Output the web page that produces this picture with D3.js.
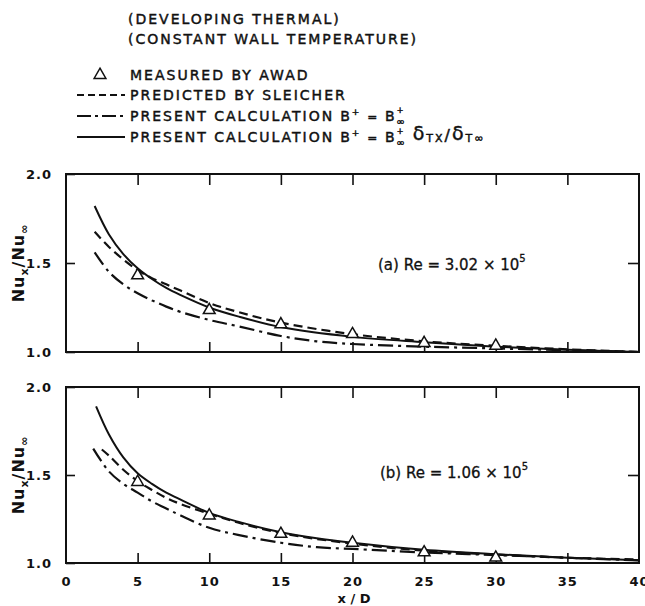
<!DOCTYPE html>
<html><head><meta charset="utf-8">
<script src="https://cdn.jsdelivr.net/npm/d3@7"></script>
<style>body{margin:0;background:#fff} svg{display:block}</style>
</head><body>
<script>
// ---------- data ----------
const xTicks = [0, 5, 10, 15, 20, 25, 30, 35, 40];
const yTicks = [1.0, 1.5, 2.0];
const titleLines = ["(DEVELOPING THERMAL)", "(CONSTANT WALL TEMPERATURE)"];
const legendLabels = ["MEASURED BY AWAD", "PREDICTED BY SLEICHER", "PRESENT CALCULATION"];
const panelLabels = ["(a) Re = 3.02 × 10", "(b) Re = 1.06 × 10"];

// panel (a)  Re = 3.02e5
const aSolidX   = [2, 3, 4, 5, 6, 7, 8, 10, 12, 15, 20, 25, 30, 35, 40];
const aSolidY   = [1.82, 1.66, 1.55, 1.47, 1.41, 1.36, 1.32, 1.25, 1.20, 1.14, 1.085, 1.055, 1.03, 1.012, 1.0];
const aDashX    = [2, 3, 4, 5, 6, 7, 8, 10, 12, 15, 20, 25, 30, 35, 40];
const aDashY    = [1.675, 1.59, 1.52, 1.46, 1.415, 1.38, 1.345, 1.275, 1.225, 1.165, 1.10, 1.06, 1.035, 1.015, 1.0];
const aDashDotX = [2, 3, 4, 5, 6, 7, 8, 10, 12, 15, 17.5, 20, 25, 30, 35, 40];
const aDashDotY = [1.56, 1.45, 1.38, 1.33, 1.29, 1.255, 1.225, 1.18, 1.145, 1.09, 1.06, 1.045, 1.03, 1.02, 1.01, 1.0];
const aMeasX    = [5, 10, 15, 20, 25, 30];
const aMeasY    = [1.43, 1.235, 1.155, 1.10, 1.05, 1.035];

// panel (b)  Re = 1.06e5
const bSolidX   = [2.1, 3, 4, 5, 6, 7, 8, 10, 12, 15, 17.5, 20, 25, 30, 35, 40];
const bSolidY   = [1.89, 1.73, 1.60, 1.51, 1.45, 1.40, 1.36, 1.285, 1.235, 1.175, 1.14, 1.115, 1.075, 1.05, 1.03, 1.015];
const bDashX    = [2.5, 3, 4, 5, 6, 7, 8, 10, 12, 15, 20, 25, 30, 35, 40];
const bDashY    = [1.645, 1.61, 1.53, 1.465, 1.415, 1.37, 1.335, 1.28, 1.23, 1.17, 1.11, 1.07, 1.048, 1.03, 1.02];
const bDashDotX = [1.9, 3, 4, 5, 6, 7, 8, 10, 12, 15, 17.5, 20, 25, 30, 35, 40];
const bDashDotY = [1.65, 1.52, 1.45, 1.40, 1.35, 1.31, 1.27, 1.20, 1.16, 1.115, 1.09, 1.08, 1.06, 1.045, 1.03, 1.015];
const bMeasX    = [5, 10, 15, 20, 25, 30];
const bMeasY    = [1.46, 1.27, 1.165, 1.115, 1.06, 1.03];

// ---------- layout ----------
const W = 645, H = 606;
const svg = d3.select("body").append("svg").attr("width", W).attr("height", H);
const FONT = "DejaVu Sans, sans-serif";
const INK = "#111";

const x = d3.scaleLinear().domain([0, 40]).range([66, 639]);
const panels = [
  {top: 174, bottom: 352, solid: [aSolidX, aSolidY], dash: [aDashX, aDashY], dd: [aDashDotX, aDashDotY], meas: [aMeasX, aMeasY], label: panelLabels[0], lx: 378, ly: 270, showX: false},
  {top: 387, bottom: 563, solid: [bSolidX, bSolidY], dash: [bDashX, bDashY], dd: [bDashDotX, bDashDotY], meas: [bMeasX, bMeasY], label: panelLabels[1], lx: 380, ly: 478, showX: true}
];

const zip = (xs, ys) => xs.map((v, i) => [v, ys[i]]);
const dashStyle = "9,5";
const dashDotStyle = "15,5,3,5";

// ---------- header / legend ----------
const head = svg.append("g").attr("font-family", FONT).attr("font-size", 14)
  .attr("letter-spacing", "2px").attr("fill", INK).attr("stroke", INK).attr("stroke-width", 0.45);
titleLines.forEach((t, i) => head.append("text").attr("x", 128).attr("y", 24 + i * 19.5).text(t));

const legendRows = [
  {y: 80, kind: "tri"},
  {y: 100, kind: "dash"},
  {y: 121, kind: "dd"},
  {y: 142, kind: "solid"}
];
const tri = d3.symbol().type(d3.symbolTriangle).size(60);
legendRows.forEach(r => {
  if (r.kind === "tri") {
    svg.append("path").attr("d", tri()).attr("transform", `translate(100,${r.y - 5})`)
      .attr("fill", "#fff").attr("stroke", INK).attr("stroke-width", 1.5);
  } else {
    svg.append("line").attr("x1", 77).attr("x2", 125).attr("y1", r.y - 5).attr("y2", r.y - 5)
      .attr("stroke", INK).attr("stroke-width", 2)
      .attr("stroke-dasharray", r.kind === "dash" ? "7,4" : r.kind === "dd" ? "14,4,3,4" : null);
  }
});
head.append("text").attr("x", 130).attr("y", 80).text(legendLabels[0]);
head.append("text").attr("x", 130).attr("y", 100).text(legendLabels[1]);

function bInf(t) {
  t.append("tspan").attr("dx", 6).text("B");
  t.append("tspan").attr("font-size", 9).attr("dy", -6).text("+");
  t.append("tspan").attr("font-size", 12).attr("dy", 6).text(" = ");
  t.append("tspan").attr("font-size", 14).text("B");
  t.append("tspan").attr("font-size", 8).attr("dy", -8).text("+");
  t.append("tspan").attr("font-size", 10).attr("letter-spacing", "0px").attr("dx", -9).attr("dy", 12).text("∞");
}
const r3 = head.append("text").attr("x", 130).attr("y", 121);
r3.append("tspan").text(legendLabels[2]);
bInf(r3);
const r4 = head.append("text").attr("x", 130).attr("y", 142);
r4.append("tspan").text(legendLabels[2]);
bInf(r4);
r4.append("tspan").attr("font-size", 19).attr("dx", 8).attr("dy", -6).text("δ");
r4.append("tspan").attr("font-size", 11).attr("dy", 2).text("TX");
r4.append("tspan").attr("font-size", 16).attr("dy", -1).text("/");
r4.append("tspan").attr("font-size", 19).attr("dy", -1).text("δ");
r4.append("tspan").attr("font-size", 11).attr("dy", 2).text("T∞");

// ---------- panels ----------
panels.forEach(p => {
  const y = d3.scaleLinear().domain([1, 2]).range([p.bottom, p.top]);
  const g = svg.append("g");

  // frame
  g.append("rect").attr("x", x(0)).attr("y", y(2)).attr("width", x(40) - x(0)).attr("height", y(1) - y(2))
    .attr("fill", "none").attr("stroke", INK).attr("stroke-width", 2);

  // axes (inward ticks)
  const inner = xTicks.slice(1, -1);
  const ax = g.append("g").attr("transform", `translate(0,${y(1)})`)
    .call(d3.axisBottom(x).tickValues(p.showX ? xTicks : inner).tickSize(-10).tickPadding(14)
      .tickFormat(p.showX ? d3.format("d") : ""));
  ax.selectAll(".tick line").filter(d => d === 0 || d === 40).remove();
  g.append("g").attr("transform", `translate(0,${y(2)})`)
    .call(d3.axisTop(x).tickValues(inner).tickSize(-11).tickFormat(""));
  g.append("g").attr("transform", `translate(${x(0)},0)`)
    .call(d3.axisLeft(y).tickValues(yTicks).tickSize(-9).tickPadding(14).tickFormat(d3.format(".1f")));
  g.append("g").attr("transform", `translate(${x(40)},0)`)
    .call(d3.axisRight(y).tickValues([1.5]).tickSize(-11).tickFormat(""));
  g.selectAll(".domain").remove();
  g.selectAll(".tick line").attr("stroke", INK).attr("stroke-width", 1.6);
  g.selectAll(".tick text").attr("font-family", FONT).attr("font-size", 13).attr("font-weight", "bold")
    .attr("fill", INK).attr("letter-spacing", "1px");

  // y label
  const yl = g.append("text").attr("transform", `translate(24,${(p.top + p.bottom) / 2}) rotate(-90)`)
    .attr("text-anchor", "middle").attr("font-family", FONT).attr("font-size", 16).attr("font-weight", "bold")
    .attr("letter-spacing", "1px").attr("fill", INK);
  yl.append("tspan").text("Nu");
  yl.append("tspan").attr("font-size", 11).attr("dy", 4).text("x");
  yl.append("tspan").attr("dy", -4).text("/Nu");
  yl.append("tspan").attr("font-size", 11).attr("dy", 4).text("∞");

  // curves
  const line = d3.line().x(d => x(d[0])).y(d => y(d[1])).curve(d3.curveCatmullRom.alpha(0.5));
  g.append("path").attr("d", line(zip(...p.dd))).attr("fill", "none").attr("stroke", INK)
    .attr("stroke-width", 2.2).attr("stroke-dasharray", dashDotStyle);
  g.append("path").attr("d", line(zip(...p.dash))).attr("fill", "none").attr("stroke", INK)
    .attr("stroke-width", 2.2).attr("stroke-dasharray", dashStyle);
  g.append("path").attr("d", line(zip(...p.solid))).attr("fill", "none").attr("stroke", INK)
    .attr("stroke-width", 2);

  // measured points
  g.selectAll("path.m").data(zip(...p.meas)).join("path").attr("class", "m")
    .attr("d", tri()).attr("transform", d => `translate(${x(d[0])},${y(d[1])})`)
    .attr("fill", "#fff").attr("stroke", INK).attr("stroke-width", 1.5);

  // panel annotation
  const t = g.append("text").attr("x", p.lx).attr("y", p.ly).attr("font-family", FONT).attr("font-size", 15)
    .attr("fill", INK).attr("stroke", INK).attr("stroke-width", 0.3);
  t.append("tspan").text(p.label);
  t.append("tspan").attr("font-size", 10).attr("dy", -8).text("5");
});

// x axis title
svg.append("text").attr("x", 354).attr("y", 603).attr("text-anchor", "middle")
  .attr("font-family", FONT).attr("font-size", 13).attr("font-weight", "bold").attr("fill", INK).text("x / D");
</script>
</body></html>
